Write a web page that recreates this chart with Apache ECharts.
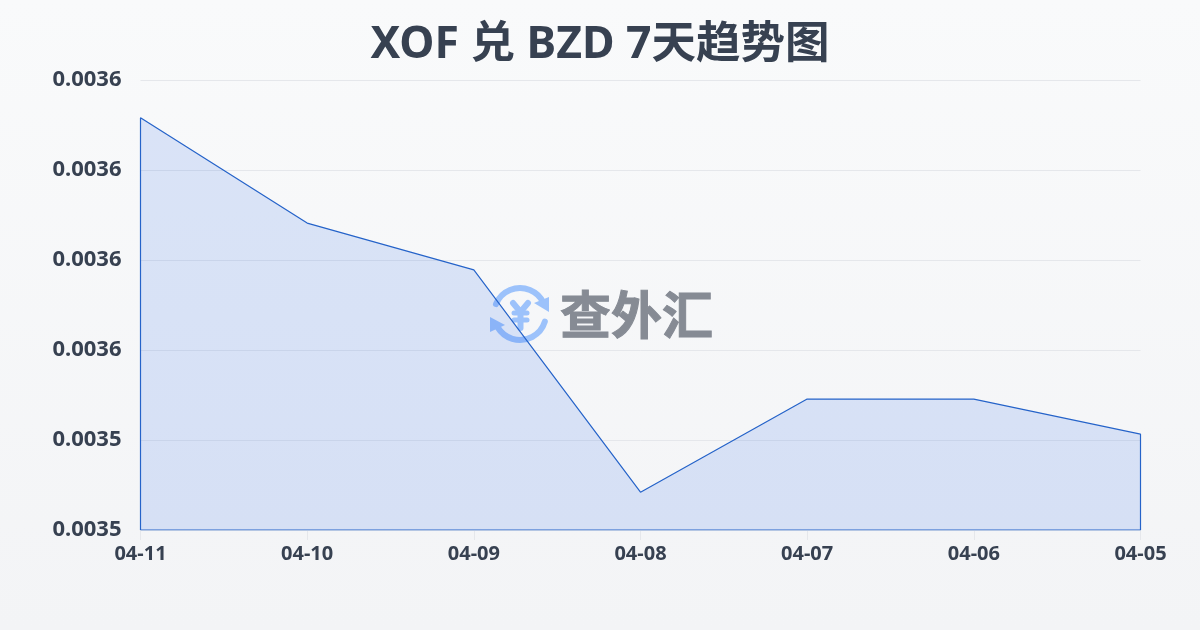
<!DOCTYPE html>
<html>
<head>
<meta charset="utf-8">
<style>
  html, body { margin: 0; padding: 0; }
  #chart { width: 1200px; height: 630px; }
</style>
<script src="https://cdn.jsdelivr.net/npm/echarts@6/dist/echarts.min.js"></script>
</head>
<body>
<div id="chart"></div>
<script>
const titleText = 'XOF 兑 BZD 7天趋势图';
const dates = ['04-11', '04-10', '04-09', '04-08', '04-07', '04-06', '04-05'];
const rates = [0.0036116, 0.0035882, 0.0035778, 0.0035284, 0.0035491, 0.0035491, 0.0035413];
const axisMin = 0.00352;
const axisMax = 0.00362;
const axisStep = 0.00002;

const fontFamily = '"Noto Sans", "Noto Sans CJK SC", sans-serif';
const textColor = '#374151';
const lineColor = '#2563c9';
const logoBlue = '#9cc2fb';

// outline runs down both sides and along the bottom, so the area looks closed
const outline = [[0, axisMin]]
  .concat(rates.map((v, i) => [i, v]))
  .concat([[rates.length - 1, axisMin], [0, axisMin]]);

const myChart = echarts.init(document.getElementById('chart'));
myChart.setOption({
  animation: false,
  backgroundColor: {
    type: 'linear', x: 0, y: 0, x2: 0, y2: 1,
    colorStops: [{ offset: 0, color: '#f9fafb' }, { offset: 1, color: '#f3f4f6' }],
  },
  title: {
    text: titleText,
    left: 'center',
    top: 18,
    textStyle: { fontFamily, fontSize: 44.5, fontWeight: 'bold', color: textColor },
  },
  grid: { left: 140.5, right: 59.5, top: 80, bottom: 100 },
  xAxis: {
    type: 'category',
    boundaryGap: false,
    data: dates,
    axisLine: { show: false },
    axisTick: { show: true, length: 10, lineStyle: { color: '#e5e7eb' } },
    axisLabel: { fontFamily, fontSize: 20, fontWeight: 'bold', color: textColor, margin: 14, hideOverlap: false, interval: 0 },
    splitLine: { show: false },
  },
  yAxis: {
    type: 'value',
    min: axisMin,
    max: axisMax,
    interval: axisStep,
    axisLine: { show: false },
    axisTick: { show: false },
    axisLabel: {
      fontFamily, fontSize: 22, fontWeight: 'bold', color: textColor, margin: 19,
      formatter: (v) => v.toFixed(4),
    },
    splitLine: { lineStyle: { color: '#e5e7eb', width: 1 } },
  },
  graphic: [
    {
      type: 'group',
      z: 1,
      children: [
        { type: 'arc', shape: { cx: 520, cy: 314, r: 26, startAngle: -2.75, endAngle: -0.45 }, style: { stroke: logoBlue, lineWidth: 6, fill: null, lineCap: 'round' } },
        { type: 'arc', shape: { cx: 520, cy: 314, r: 26, startAngle: 0.3, endAngle: 2.6 }, style: { stroke: logoBlue, lineWidth: 6, fill: null, lineCap: 'round' } },
        { type: 'polygon', shape: { points: [[549, 297], [549, 312], [534, 303]] }, style: { fill: logoBlue } },
        { type: 'polygon', shape: { points: [[490, 317], [490, 332], [505, 325]] }, style: { fill: logoBlue } },
        { type: 'polyline', shape: { points: [[513, 303], [520.5, 312], [528, 303]] }, style: { stroke: logoBlue, lineWidth: 6, fill: null, lineCap: 'round' } },
        { type: 'line', shape: { x1: 520.5, y1: 312, x2: 520.5, y2: 328 }, style: { stroke: logoBlue, lineWidth: 6, lineCap: 'round' } },
        { type: 'line', shape: { x1: 514, y1: 313, x2: 527, y2: 313 }, style: { stroke: logoBlue, lineWidth: 5, lineCap: 'round' } },
        { type: 'line', shape: { x1: 514, y1: 320, x2: 527, y2: 320 }, style: { stroke: logoBlue, lineWidth: 5, lineCap: 'round' } },
        { type: 'text', style: { text: '查外汇', x: 560, y: 319, align: 'left', verticalAlign: 'middle', fontFamily, fontSize: 51, fontWeight: 'bold', fill: '#868b94', stroke: '#868b94', lineWidth: 1 } },
      ],
    },
  ],
  series: [
    {
      type: 'line',
      data: rates,
      symbol: 'none',
      lineStyle: { width: 0 },
      areaStyle: { color: 'rgba(37, 99, 235, 0.14)', opacity: 1, origin: 'start' },
      z: 2,
    },
    {
      type: 'line',
      data: outline,
      symbol: 'none',
      lineStyle: { color: lineColor, width: 1.2 },
      z: 3,
    },
  ],
});
</script>
</body>
</html>
